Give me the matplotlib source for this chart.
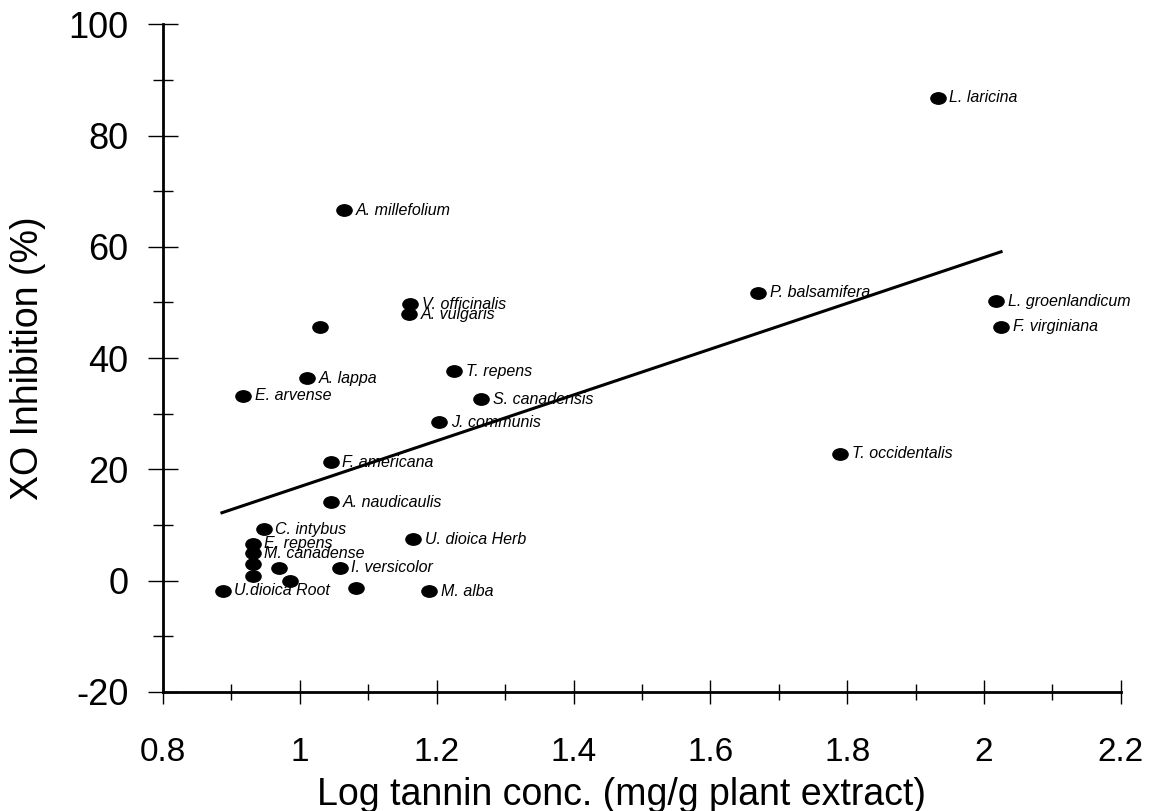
import numpy as np
import matplotlib
matplotlib.use("Agg")
import matplotlib.pyplot as plt
from matplotlib.path import Path
from matplotlib.transforms import Affine2D
from matplotlib.ticker import MultipleLocator

# log tannin concentration vs XO inhibition
species = ["L. laricina", "A. millefolium", "V. officinalis", "A. vulgaris", "",
           "P. balsamifera", "L. groenlandicum", "F. virginiana", "A. lappa",
           "T. repens", "E. arvense", "S. canadensis", "J. communis",
           "T. occidentalis", "F. americana", "A. naudicaulis", "C. intybus",
           "E. repens", "M. canadense", "U. dioica Herb", "", "", "I. versicolor",
           "", "", "U.dioica Root", "", "M. alba"]
log_tannin = [1.932, 1.064, 1.161, 1.160, 1.029,
              1.670, 2.018, 2.025, 1.011,
              1.225, 0.917, 1.265, 1.203,
              1.790, 1.045, 1.045, 0.947,
              0.931, 0.931, 1.166, 0.931, 0.970, 1.058,
              0.931, 0.986, 0.887, 1.082, 1.189]
xo_inhib = [86.8, 66.6, 49.7, 47.9, 45.5,
            51.7, 50.2, 45.6, 36.4,
            37.6, 33.2, 32.6, 28.5,
            22.8, 21.3, 14.1, 9.2,
            6.6, 4.9, 7.4, 3.0, 2.3, 2.3,
            0.9, -0.1, -1.8, -1.4, -1.9]

# regression line end points
fit_x = [0.884, 2.027]
fit_y = [12.1, 59.2]

plt.rcParams['font.family'] = ['Liberation Sans', 'DejaVu Sans']
plt.rcParams['axes.unicode_minus'] = False

# slightly flattened dot like the original
ellipse = Path.unit_circle().transformed(Affine2D().scale(1.0, 0.75))

fig = plt.figure(figsize=(11.52, 8.11), dpi=100)
ax = fig.add_axes([0.1415, 0.147, 0.8315, 0.823])

ax.plot(fit_x, fit_y, color='black', lw=2.2, solid_capstyle='butt', zorder=2)
ax.scatter(log_tannin, xo_inhib, marker=ellipse, s=120, color='black', zorder=3)
for name, x, y in zip(species, log_tannin, xo_inhib):
    if name:
        ax.annotate(name, (x, y), xytext=(8.5, 0), textcoords='offset points',
                    ha='left', va='center', fontsize=11.5, style='italic')

ax.set_xlim(0.8, 2.2)
ax.set_ylim(-20, 100)
ax.xaxis.set_major_locator(MultipleLocator(0.2))
ax.xaxis.set_minor_locator(MultipleLocator(0.1))
ax.yaxis.set_major_locator(MultipleLocator(20))
ax.yaxis.set_minor_locator(MultipleLocator(10))
ax.set_xticks(np.arange(0.8, 2.21, 0.2))
ax.set_xticklabels(['0.8', '1', '1.2', '1.4', '1.6', '1.8', '2', '2.2'])

for s in ['top', 'right']:
    ax.spines[s].set_visible(False)
for s in ['left', 'bottom']:
    ax.spines[s].set_linewidth(2)

ax.tick_params(axis='x', which='major', direction='inout', length=17, width=1, labelsize=24, pad=24)
ax.tick_params(axis='x', which='minor', direction='inout', length=11.5, width=1)
ax.tick_params(axis='y', which='major', direction='inout', length=21.5, width=1, labelsize=26, pad=14)
ax.tick_params(axis='y', which='minor', direction='inout', length=14.5, width=1)

ax.set_xlabel('Log tannin conc. (mg/g plant extract)', fontsize=27)
ax.set_ylabel('XO Inhibition (%)', fontsize=27)
ax.xaxis.set_label_coords(0.479, -0.127)
ax.yaxis.set_label_coords(-0.122, 0.5)

fig.savefig('out.png', dpi=100)
